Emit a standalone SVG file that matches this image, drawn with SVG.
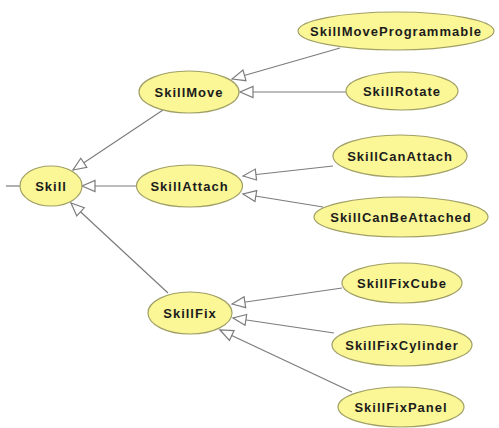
<svg xmlns="http://www.w3.org/2000/svg" width="499" height="428" viewBox="0 0 499 428">
  <style>
    .node ellipse { fill: #fbf796; stroke: #a09f66; stroke-width: 1.2; }
    .node text { font-family: "Liberation Sans", Arial, sans-serif; font-weight: bold; font-size: 13px; letter-spacing: 1px; fill: #1c1c1c; text-anchor: middle; }
    .edge { stroke: #7c7c7c; stroke-width: 1.2; fill: none; marker-end: url(#hollow); }
    .stub { stroke: #7c7c7c; stroke-width: 1.2; fill: none; }
  </style>
  <defs>
    <!-- open triangle for "is-a" links, tip at the parent node -->
    <marker id="hollow" markerUnits="userSpaceOnUse" markerWidth="16" markerHeight="14" viewBox="-14 -7 16 14" refX="0" refY="0" orient="auto">
      <path d="M0,0 L-13,-5.5 L-13,5.5 Z" fill="#ffffff" stroke="#7c7c7c" stroke-width="1.2" stroke-linejoin="miter"/>
    </marker>
  </defs>
  <rect width="499" height="428" fill="#ffffff"/>

  <g id="connectors">
    <line class="stub" x1="6" y1="186" x2="20" y2="186"/>
    <line class="edge" x1="340" y1="48" x2="232" y2="79"/>
    <line class="edge" x1="346" y1="92" x2="240" y2="92"/>
    <line class="edge" x1="163" y1="110" x2="73" y2="170"/>
    <line class="edge" x1="137" y1="186" x2="82" y2="186"/>
    <line class="edge" x1="168" y1="293" x2="71" y2="203"/>
    <line class="edge" x1="333" y1="166" x2="243" y2="176"/>
    <line class="edge" x1="323" y1="207" x2="243" y2="194"/>
    <line class="edge" x1="342" y1="288" x2="232" y2="304"/>
    <line class="edge" x1="334" y1="333" x2="233" y2="318"/>
    <line class="edge" x1="352" y1="392" x2="220" y2="330"/>
  </g>

  <g id="Skill" class="node">
    <ellipse cx="51" cy="186" rx="31" ry="20"/>
    <text x="51" y="190.5">Skill</text>
  </g>
  <g id="SkillMove" class="node">
    <ellipse cx="189" cy="92" rx="50" ry="21"/>
    <text x="189" y="96.5">SkillMove</text>
  </g>
  <g id="SkillAttach" class="node">
    <ellipse cx="189.5" cy="186" rx="53" ry="21"/>
    <text x="189.5" y="190.5">SkillAttach</text>
  </g>
  <g id="SkillFix" class="node">
    <ellipse cx="190" cy="313" rx="42" ry="21"/>
    <text x="190" y="317.5">SkillFix</text>
  </g>
  <g id="SkillMoveProgrammable" class="node">
    <ellipse cx="396" cy="31" rx="98" ry="19"/>
    <text x="396" y="35.5">SkillMoveProgrammable</text>
  </g>
  <g id="SkillRotate" class="node">
    <ellipse cx="402" cy="91" rx="56" ry="19"/>
    <text x="402" y="95.5">SkillRotate</text>
  </g>
  <g id="SkillCanAttach" class="node">
    <ellipse cx="400" cy="156" rx="67" ry="21"/>
    <text x="400" y="160.5">SkillCanAttach</text>
  </g>
  <g id="SkillCanBeAttached" class="node">
    <ellipse cx="401" cy="217" rx="87" ry="20"/>
    <text x="401" y="221.5">SkillCanBeAttached</text>
  </g>
  <g id="SkillFixCube" class="node">
    <ellipse cx="402" cy="283" rx="60" ry="20"/>
    <text x="402" y="287.5">SkillFixCube</text>
  </g>
  <g id="SkillFixCylinder" class="node">
    <ellipse cx="402" cy="345" rx="70" ry="21"/>
    <text x="402" y="349.5">SkillFixCylinder</text>
  </g>
  <g id="SkillFixPanel" class="node">
    <ellipse cx="401" cy="407" rx="63" ry="20"/>
    <text x="401" y="411.5">SkillFixPanel</text>
  </g>
</svg>
